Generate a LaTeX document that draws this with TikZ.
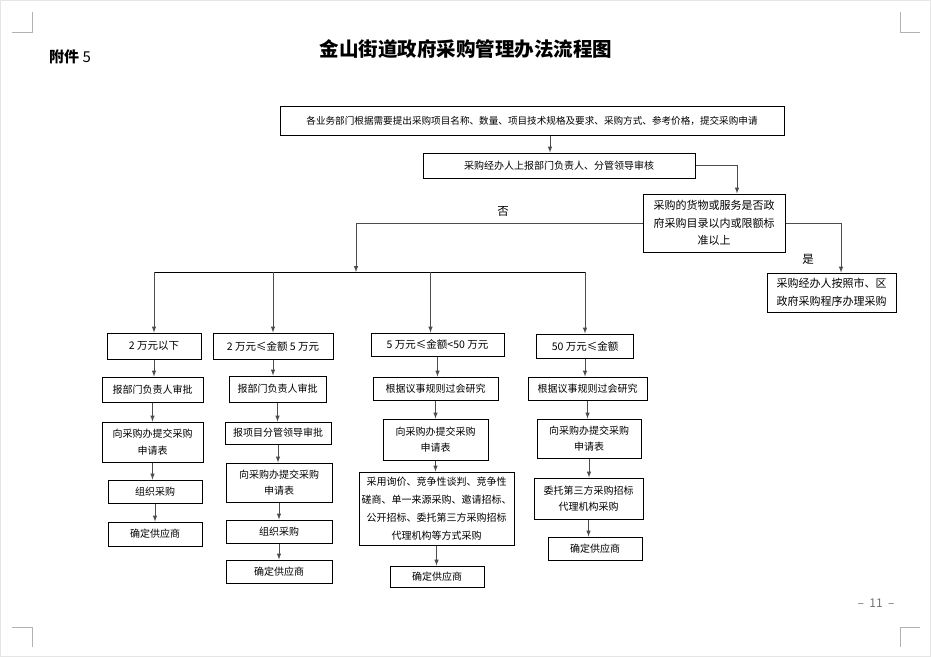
\documentclass[tikz,border=0pt]{standalone}
\usepackage{fontspec}
\setmainfont{Noto Sans CJK SC}
\usepackage{tikz}

\begin{document}
\begin{tikzpicture}[x=1pt, y=-1pt, >=latex,
    box/.style={draw, line width=1pt, inner sep=2pt, align=center,
        font=\fontsize{10}{16.5}\selectfont},
    big/.style={box, font=\fontsize{11}{17.5}\selectfont},
    head/.style={box, font=\fontsize{10.5}{16}\selectfont},
    arr/.style={->, line width=1pt, draw=black!70},
    lnk/.style={line width=1pt},
    cornermark/.style={line width=0.8pt, draw=black!30}]
    \useasboundingbox (0,0) rectangle (931,657);
    \draw[black!10] (0.5,0.5) rectangle (930.5,656.5);
    \draw[cornermark] (12,32) -- (32,32) -- (32,12);
    \draw[cornermark] (920,32) -- (900,32) -- (900,12);
    \draw[cornermark] (12,627) -- (32,627) -- (32,647);
    \draw[cornermark] (920,627) -- (900,627) -- (900,647);

    \node[font=\fontsize{15}{15}\selectfont] (att) at (70,57) {\textbf{附件} 5};
    \node[font=\fontsize{19.5}{20}\selectfont\bfseries] (title) at (466,49) {金山街道政府采购管理办法流程图};
    \node[font=\fontsize{12}{12}\selectfont, text=black!55] (page) at (876,603) {–\ \ 11\ \ –};

    \node[box, font=\fontsize{9.6}{12}\selectfont, minimum width=504, minimum height=29] (top) at (532,120.5)
        {\raisebox{-3pt}{各业务部门根据需要提出采购项目名称、数量、项目技术规格及要求、采购方式、参考价格，提交采购申请}};
    \node[box, minimum width=272, minimum height=25] (n2) at (559,165.5) {采购经办人上报部门负责人、分管领导审核};
    \node[big, minimum width=142, minimum height=58] (dec) at (714,223)
        {采购的货物或服务是否政\\府采购目录以内或限额标\\准以上};
    \node[big, minimum width=129, minimum height=39] (yes) at (831.5,292.5)
        {采购经办人按照市、区\\政府采购程序办理采购};

    \node[head, minimum width=94, minimum height=26] (a1) at (154,346) {2 万元以下};
    \node[box, minimum width=101, minimum height=25] (a2) at (152.5,389.5) {报部门负责人审批};
    \node[box, minimum width=101, minimum height=40] (a3) at (152.5,442) {向采购办提交采购\\申请表};
    \node[box, minimum width=94, minimum height=23] (a4) at (155,491.5) {组织采购};
    \node[box, minimum width=94, minimum height=24] (a5) at (155,534) {确定供应商};

    \node[head, minimum width=120, minimum height=26] (b1) at (273,346) {2 万元≤金额 5 万元};
    \node[box, minimum width=97, minimum height=26] (b2) at (277.5,389) {报部门负责人审批};
    \node[box, minimum width=106, minimum height=22] (b3) at (278,433) {报项目分管领导审批};
    \node[box, minimum width=106, minimum height=39] (b4) at (279,482.5) {向采购办提交采购\\申请表};
    \node[box, minimum width=106, minimum height=23] (b5) at (279,531.5) {组织采购};
    \node[box, minimum width=106, minimum height=23] (b6) at (279,571.5) {确定供应商};

    \node[head, minimum width=133, minimum height=23] (c1) at (437.5,344.5) {5 万元≤金额<50 万元};
    \node[box, minimum width=125, minimum height=23] (c2) at (435.5,388.5) {根据议事规则过会研究};
    \node[box, minimum width=105, minimum height=41] (c3) at (435.5,439.5) {向采购办提交采购\\申请表};
    \node[box, font=\fontsize{10}{18}\selectfont, minimum width=155, minimum height=73] (c4) at (436.5,508.5)
        {采用询价、竞争性谈判、竞争性\\磋商、单一来源采购、邀请招标、\\公开招标、委托第三方采购招标\\代理机构等方式采购};
    \node[box, minimum width=94, minimum height=21] (c5) at (437,576.5) {确定供应商};

    \node[head, minimum width=97, minimum height=24] (d1) at (585,346) {50 万元≤金额};
    \node[box, minimum width=119, minimum height=23] (d2) at (587.5,388.5) {根据议事规则过会研究};
    \node[box, minimum width=104, minimum height=39] (d3) at (589,438.5) {向采购办提交采购\\申请表};
    \node[box, minimum width=109, minimum height=41] (d4) at (588.5,498.5) {委托第三方采购招标\\代理机构采购};
    \node[box, minimum width=94, minimum height=23] (d5) at (595,548.5) {确定供应商};

    \coordinate (j) at (356,272);
    \draw[arr] ([xshift=18pt]top.south) -- ([xshift=18pt]top.south |- n2.north);
    \draw[arr] (n2.east) -| ([xshift=23pt]dec.north);
    \draw[arr] (dec.east) -| ([xshift=9.5pt]yes.north);
    \draw[arr] (dec.west) -| (j);
    \node[font=\fontsize{11.5}{12}\selectfont] (no) at (503,211) {否};
    \node[font=\fontsize{11.5}{12}\selectfont] (yeslabel) at (808,259) {是};

    \draw[lnk] (a1.north |- j) -- (d1.north |- j);
    \foreach \n in {a1,b1,d1}
        \draw[arr] (\n.north |- j) -- (\n.north);
    \draw[arr] ([xshift=-7pt]c1.north |- j) -- ([xshift=-7pt]c1.north);

    \foreach \u/\v in {a1/a2,a2/a3,a3/a4,a4/a5,b1/b2,b2/b3,b3/b4,b4/b5,b5/b6,c1/c2,c2/c3,c3/c4,c4/c5,d1/d2,d2/d3,d3/d4,d4/d5}
        \draw[arr] (\u.south) -- (\u.south |- \v.north);
\end{tikzpicture}
\end{document}
